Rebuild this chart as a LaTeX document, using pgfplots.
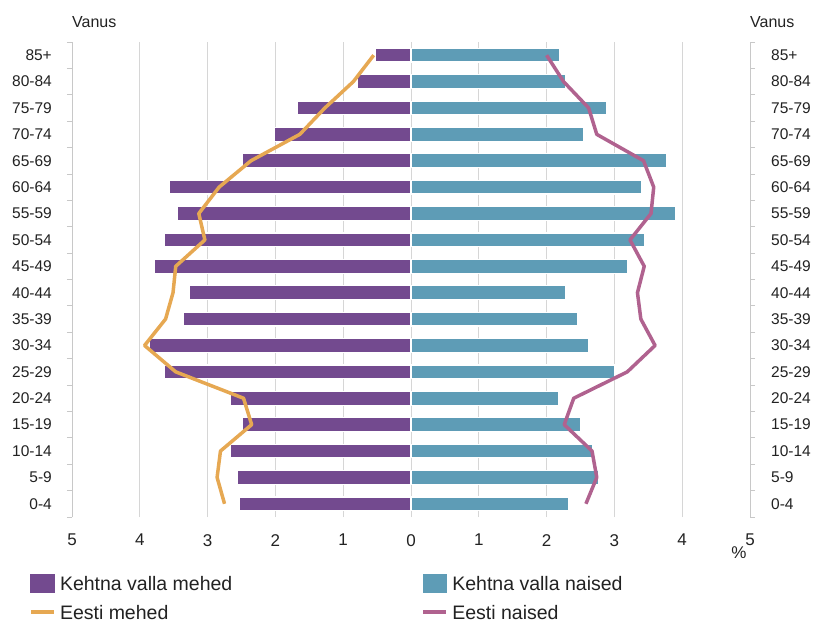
\documentclass[border=0pt]{standalone}
\usepackage{fontspec}
\setmainfont{Liberation Sans}
\usepackage{pgfplots}
\usepackage{pgfplotstable}
\pgfplotsset{compat=1.18}
\definecolor{cmale}{HTML}{734A8F}
\definecolor{cfemale}{HTML}{5E9CB6}
\definecolor{eline}{HTML}{E6A852}
\definecolor{pline}{HTML}{B0628F}
\definecolor{gridc}{HTML}{D6D6D6}
\definecolor{axc}{HTML}{C8C8C8}
\definecolor{txt}{HTML}{222222}
\pgfplotstableread{
y km kn em en
0 -2.53 2.32 -2.75 2.58
1 -2.56 2.76 -2.86 2.74
2 -2.67 2.68 -2.81 2.67
3 -2.49 2.50 -2.35 2.26
4 -2.67 2.17 -2.47 2.40
5 -3.64 3.01 -3.47 3.19
6 -3.86 2.62 -3.93 3.60
7 -3.36 2.45 -3.62 3.39
8 -3.27 2.28 -3.51 3.34
9 -3.79 3.19 -3.47 3.44
10 -3.64 3.45 -3.04 3.23
11 -3.45 3.90 -3.13 3.54
12 -3.56 3.40 -2.83 3.58
13 -2.49 3.77 -2.36 3.43
14 -2.02 2.54 -1.64 2.74
15 -1.67 2.88 -1.27 2.62
16 -0.79 2.28 -0.85 2.25
17 -0.53 2.19 -0.55 2.00
}\data
\def\agelabels{0-4,5-9,10-14,15-19,20-24,25-29,30-34,35-39,40-44,45-49,50-54,55-59,60-64,65-69,70-74,75-79,80-84,85+}
\begin{document}
\begin{tikzpicture}
\useasboundingbox (0,0) rectangle (813pt,622pt);
\begin{axis}[
  at={(72pt,105pt)}, anchor=south west,
  width=678pt, height=475pt, scale only axis,
  clip mode=individual,
  xmin=-5, xmax=5, ymin=-0.5, ymax=17.5,
  xtick={-5,...,5}, xticklabels={5,4,3,2,1,0,1,2,3,4,5},
  ytick={0,...,17}, yticklabels/.expanded={\agelabels},
  minor ytick={-0.5,0.5,...,17.5},
  separate axis lines,
  x axis line style={draw=none},
  y axis line style={draw=axc, line width=0.8pt},
  xmajorgrids, grid style={draw=gridc, line width=0.8pt},
  major tick length=0pt, minor tick length=5pt,
  tick align=outside, ytick pos=both, xtick pos=bottom,
  minor tick style={draw=axc, line width=0.8pt},
  yticklabel style={anchor=east, inner sep=0pt, xshift=-20pt, font=\fontsize{15.5}{18}\selectfont, text=txt},
  xticklabel style={anchor=north, inner sep=0pt, yshift=-17pt, font=\fontsize{17}{20}\selectfont, text=txt},
  legend columns=2,
  legend cell align=left,
  legend style={at={(-0.06342,-0.1200)}, anchor=north west, draw=none, fill=none,
    inner sep=0pt, outer sep=0pt, row sep=12pt,
    font=\fontsize{19.5}{22}\selectfont, text=txt,
    nodes={inner sep=0pt, text height=14pt, text depth=0pt},
    /tikz/every odd column/.append style={column sep=4pt},
    /tikz/every even column/.append style={column sep=189pt}},
]
\addplot[xbar, bar width=0.52, bar shift=0pt, fill=cmale, draw=white, line width=1.2pt,
  legend image code/.code={\fill[cmale] (0pt,-9pt) rectangle (23pt,9pt);}]
  table[x=km,y=y]{\data};
\addlegendentry{Kehtna valla mehed}
\addplot[xbar, bar width=0.52, bar shift=0pt, fill=cfemale, draw=white, line width=1.2pt,
  legend image code/.code={\fill[cfemale] (0pt,-9pt) rectangle (23pt,9pt);}]
  table[x=kn,y=y]{\data};
\addlegendentry{Kehtna valla naised}
\addplot[eline, line width=3.5pt, line join=round, mark=none,
  legend image code/.code={\draw[eline, line width=4pt] (0pt,0pt) -- (23pt,0pt);}]
  table[x=em,y=y]{\data};
\addlegendentry{Eesti mehed}
\addplot[pline, line width=3.5pt, line join=round, mark=none,
  legend image code/.code={\draw[pline, line width=4pt] (0pt,0pt) -- (23pt,0pt);}]
  table[x=en,y=y]{\data};
\addlegendentry{Eesti naised}
\node[anchor=west, inner sep=0pt, font=\fontsize{16}{19}\selectfont, text=txt, yshift=20pt] at (rel axis cs:0,1) {Vanus};
\node[anchor=west, inner sep=0pt, font=\fontsize{16}{19}\selectfont, text=txt, yshift=20pt] at (rel axis cs:1,1) {Vanus};
\node[inner sep=0pt, font=\fontsize{17}{20}\selectfont, text=txt, xshift=-11pt, yshift=-36pt] at (rel axis cs:1,0) {\%};
\end{axis}
\begin{axis}[
  at={(72pt,105pt)}, anchor=south west,
  width=678pt, height=475pt, scale only axis,
  xmin=-5, xmax=5, ymin=-0.5, ymax=17.5,
  hide x axis, axis y line*=right,
  y axis line style={draw=none},
  ytick={0,...,17}, yticklabels/.expanded={\agelabels},
  major tick length=0pt,
  yticklabel style={anchor=west, inner sep=0pt, xshift=21pt, font=\fontsize{15.5}{18}\selectfont, text=txt},
]
\end{axis}
\end{tikzpicture}
\end{document}
